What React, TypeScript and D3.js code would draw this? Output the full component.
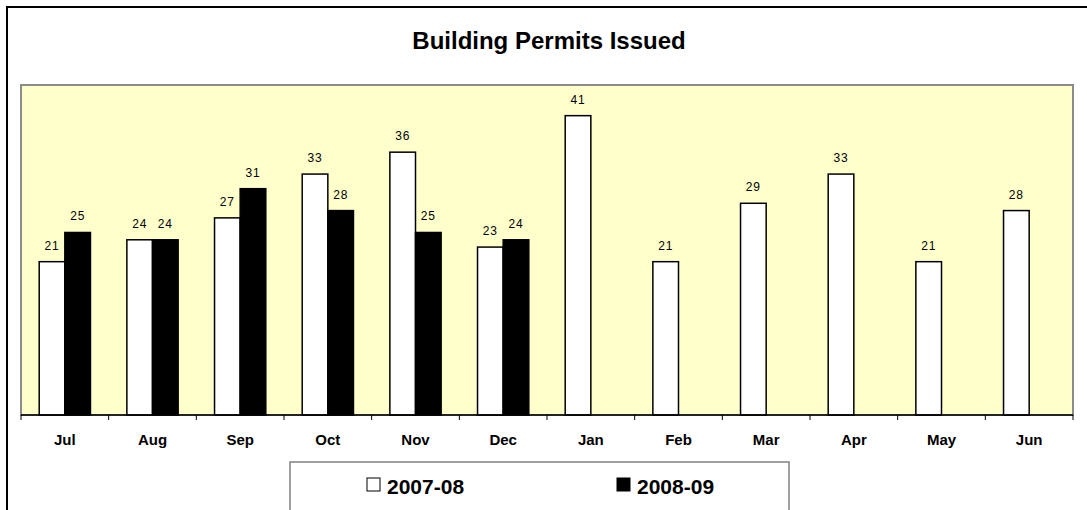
import * as d3 from "d3";
import { useEffect, useRef } from "react";

const months = ["Jul", "Aug", "Sep", "Oct", "Nov", "Dec", "Jan", "Feb", "Mar", "Apr", "May", "Jun"];
const seriesNames = ["2007-08", "2008-09"];
const permits0708 = [21, 24, 27, 33, 36, 23, 41, 21, 29, 33, 21, 28];
const permits0809 = [25, 24, 31, 28, 25, 24, null, null, null, null, null, null];
const seriesFill = ["#ffffff", "#000000"];

const W = 1087;
const H = 510;
const plot = { left: 21, top: 85, right: 1073, bottom: 415 };
const font = "'Liberation Sans', Arial, sans-serif";

export default function App() {
  const svgRef = useRef<SVGSVGElement | null>(null);

  useEffect(() => {
    const svg = d3.select(svgRef.current);
    svg.selectAll("*").remove();

    // outer chart border
    svg.append("rect")
      .attr("x", 7).attr("y", 7)
      .attr("width", W + 20).attr("height", H + 20)
      .attr("fill", "#fff").attr("stroke", "#000").attr("stroke-width", 2);

    svg.append("text")
      .attr("x", 549).attr("y", 49)
      .attr("text-anchor", "middle")
      .attr("font-family", font).attr("font-weight", "bold").attr("font-size", 24)
      .text("Building Permits Issued");

    // plot area
    svg.append("rect")
      .attr("x", plot.left).attr("y", plot.top)
      .attr("width", plot.right - plot.left).attr("height", plot.bottom - plot.top)
      .attr("fill", "#ffffcc").attr("stroke", "#8c8c8c").attr("stroke-width", 2);

    const x = d3.scaleBand<string>().domain(months).range([plot.left, plot.right]);
    const inner = d3.scaleBand<string>().domain(seriesNames)
      .range([0, x.bandwidth()]).paddingOuter(0.71).paddingInner(0);
    const y = d3.scaleLinear().domain([0, 45.2]).range([plot.bottom, plot.top]);

    const series = [permits0708, permits0809];
    series.forEach((vals, si) => {
      const rows = months.map((m, i) => ({ m, v: vals[i] })).filter((d) => d.v != null) as { m: string; v: number }[];
      const g = svg.append("g");
      g.selectAll("rect").data(rows).enter().append("rect")
        .attr("x", (d) => x(d.m)! + inner(seriesNames[si])!)
        .attr("y", (d) => y(d.v))
        .attr("width", inner.bandwidth())
        .attr("height", (d) => y(0) - y(d.v))
        .attr("fill", seriesFill[si])
        .attr("stroke", "#000").attr("stroke-width", 1.5);
      g.selectAll("text").data(rows).enter().append("text")
        .attr("x", (d) => x(d.m)! + inner(seriesNames[si])! + inner.bandwidth() / 2)
        .attr("y", (d) => y(d.v) - 12)
        .attr("text-anchor", "middle")
        .attr("font-family", font).attr("font-size", 12).attr("letter-spacing", 0.8)
        .text((d) => d.v);
    });

    // x axis
    const axis = svg.append("g").attr("transform", `translate(0,${plot.bottom})`);
    axis.append("line")
      .attr("x1", plot.left).attr("x2", plot.right)
      .attr("stroke", "#000").attr("stroke-width", 1.5);
    const tickPos = months.map((m) => x(m)!).concat([plot.right]);
    axis.selectAll("line.tick").data(tickPos).enter().append("line")
      .attr("class", "tick")
      .attr("x1", (d) => d).attr("x2", (d) => d)
      .attr("y1", 0).attr("y2", 5)
      .attr("stroke", "#000");
    axis.selectAll("text").data(months).enter().append("text")
      .attr("x", (d) => x(d)! + x.bandwidth() / 2)
      .attr("y", 30)
      .attr("text-anchor", "middle")
      .attr("font-family", font).attr("font-weight", "bold").attr("font-size", 15)
      .text((d) => d);

    // legend
    const lg = svg.append("g");
    lg.append("rect")
      .attr("x", 290).attr("y", 462)
      .attr("width", 499).attr("height", 60)
      .attr("fill", "#fff").attr("stroke", "#808080").attr("stroke-width", 1.5);
    const legendX = [367, 617];
    seriesNames.forEach((name, i) => {
      lg.append("rect")
        .attr("x", legendX[i]).attr("y", 478)
        .attr("width", 13).attr("height", 13)
        .attr("fill", seriesFill[i]).attr("stroke", "#000").attr("stroke-width", 1);
      lg.append("text")
        .attr("x", legendX[i] + 20).attr("y", 494)
        .attr("font-family", font).attr("font-weight", "bold").attr("font-size", 21)
        .text(name);
    });
  }, []);

  return (
    <div>
      <svg ref={svgRef} width={W} height={H} style={{ position: "absolute", left: 0, top: 0 }}></svg>
    </div>
  );
}
